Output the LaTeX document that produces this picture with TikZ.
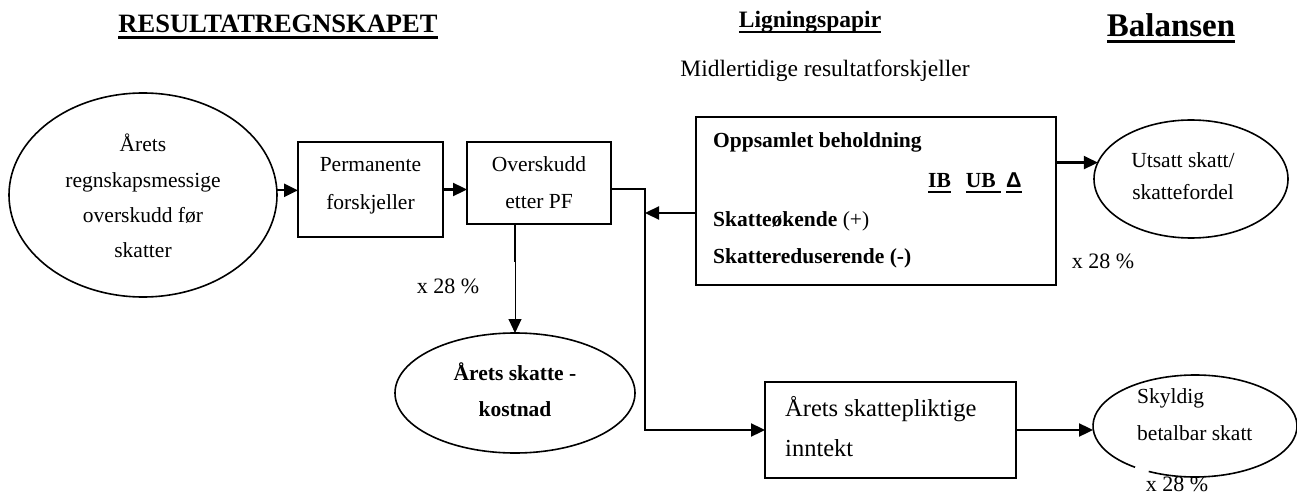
\documentclass[tikz,border=0pt]{standalone}
\usepackage{fontspec}
\setmainfont{Liberation Serif}
\newfontfamily\deltafont{Liberation Sans}
\usetikzlibrary{arrows.meta,shapes.geometric,calc}
\newcommand{\fsz}[1]{\fontsize{#1}{#1}\selectfont}
\newcommand{\myul}[3]{\leavevmode\setbox0\hbox{#3}\rlap{\raisebox{-#2pt}{\rule{\wd0}{#1pt}}}\box0}
\begin{document}
\begin{tikzpicture}[x=1pt,y=-1pt,
  shp/.style={draw, line width=1.9pt, inner sep=0pt, outer sep=0pt},
  boxn/.style={shp, rectangle},
  elln/.style={shp, ellipse, line width=1.6pt},
  conn/.style={line width=2.3pt},
  thinconn/.style={line width=1pt},
  arr/.style={-{Triangle[length=14pt,width=13pt]}},
  tx/.style={inner sep=0pt, anchor=base},
  txl/.style={inner sep=0pt, anchor=base west},
  body/.style={font=\fsz{21.5}},
  bbody/.style={font=\bfseries\fsz{21.5}},
]
\useasboundingbox (0,0) rectangle (1297,494);

% shapes
\node[elln, minimum width=268pt, minimum height=204pt] (big) at (143,195) {};
\node[boxn, minimum width=145pt, minimum height=95pt] (perm) at (370.5,189.5) {};
\node[boxn, minimum width=144pt, minimum height=82pt] (over) at (539,183) {};
\node[elln, minimum width=240pt, minimum height=120pt] (skatt) at (515,393) {};
\node[boxn, minimum width=360pt, minimum height=168pt] (opps) at (876,201) {};
\node[elln, minimum width=194pt, minimum height=118pt] (utsatt) at (1191,179) {};
\node[boxn, minimum width=251pt, minimum height=96pt] (inntekt) at (890.5,430) {};
\node[ellipse, inner sep=0pt, outer sep=0pt, minimum width=204pt, minimum height=102pt] (skyldig) at (1195,426) {};
\draw[line width=1.6pt] ($(skyldig.center)+(243:102pt and 51pt)$) arc[start angle=243, end angle=594, x radius=102pt, y radius=51pt];

% headers
\node[tx, font=\bfseries\fsz{26.5}] (h1) at (278,33) {\myul{3}{6.2}{RESULTATREGNSKAPET}};
\node[tx, font=\bfseries\fsz{23.5}] (h2) at (810,28) {\myul{2}{5}{Ligningspapir}};
\node[tx, font=\bfseries\fsz{33}] (h3) at (1171,36.7) {\myul{3.5}{6.6}{Balansen}};
\node[tx, font=\fsz{23.5}] (h4) at (825,76.7) {Midlertidige resultatforskjeller};

% texts
\node[tx, body] (b1) at (143,151.5) {Årets};
\node[tx, body] (b2) at (143,188) {regnskapsmessige};
\node[tx, body] (b3) at (143,222.5) {overskudd før};
\node[tx, body] (b4) at (143,258) {skatter};

\node[tx, body] (p1) at (370.5,171.5) {Permanente};
\node[tx, body] (p2) at (370.5,209.5) {forskjeller};

\node[tx, body] (o1) at (539,171.5) {Overskudd};
\node[tx, body] (o2) at (539,209) {etter PF};

\node[tx, bbody] (s1) at (515,380) {Årets skatte -};
\node[tx, bbody] (s2) at (515,416.5) {kostnad};

\node[txl, bbody] (q1) at (713,148) {Oppsamlet beholdning};
\node[txl, bbody] (q2) at (928,188) {\myul{2}{5}{IB}\hspace{15pt}\myul{2}{5}{UB\ }\hspace{5pt}\myul{2}{5}{\deltafont Δ}};
\node[txl, bbody] (q3) at (713,226) {Skatteøkende {\mdseries (+)}};
\node[txl, bbody] (q4) at (713,263) {Skattereduserende (-)};

\node[tx, body] (u1) at (1183,168) {Utsatt skatt/};
\node[tx, body] (u2) at (1183,200) {skattefordel};

\node[txl, font=\fsz{24.5}] (i1) at (785,416.5) {Årets skattepliktige};
\node[txl, font=\fsz{24.5}] (i2) at (785,456.5) {inntekt};

\node[txl, body] (k1) at (1137,403) {Skyldig};
\node[txl, body] (k2) at (1137,440) {betalbar skatt};

\node[tx, font=\fsz{22}] (x1) at (448,293) {x 28 \%};
\node[tx, font=\fsz{22}] (x2) at (1103,268) {x 28 \%};
\node[tx, font=\fsz{22}] (x3) at (1177,491) {x 28 \%};

% connectors
\coordinate (c1) at (515,262);
\coordinate (j) at (645,189);
\coordinate (k) at (645,213);

\draw[conn,arr] (big.2) -- (big.2 -| perm.west);
\draw[conn,arr] (perm.east) -- (perm.east -| over.west);
\draw[conn] (over.south -| c1) -- (c1);
\draw[thinconn,arr] (c1) -- (skatt.north);
\draw[conn,arr] ([yshift=-6pt]over.east) -- (j) |- (inntekt.west);
\draw[conn,arr] (opps.west |- k) -- (k);
\draw[conn,arr] (opps.east |- utsatt.170) -- (utsatt.170);
\draw[conn,arr] (inntekt.east) -- (inntekt.east -| skyldig.west);
\end{tikzpicture}
\end{document}
